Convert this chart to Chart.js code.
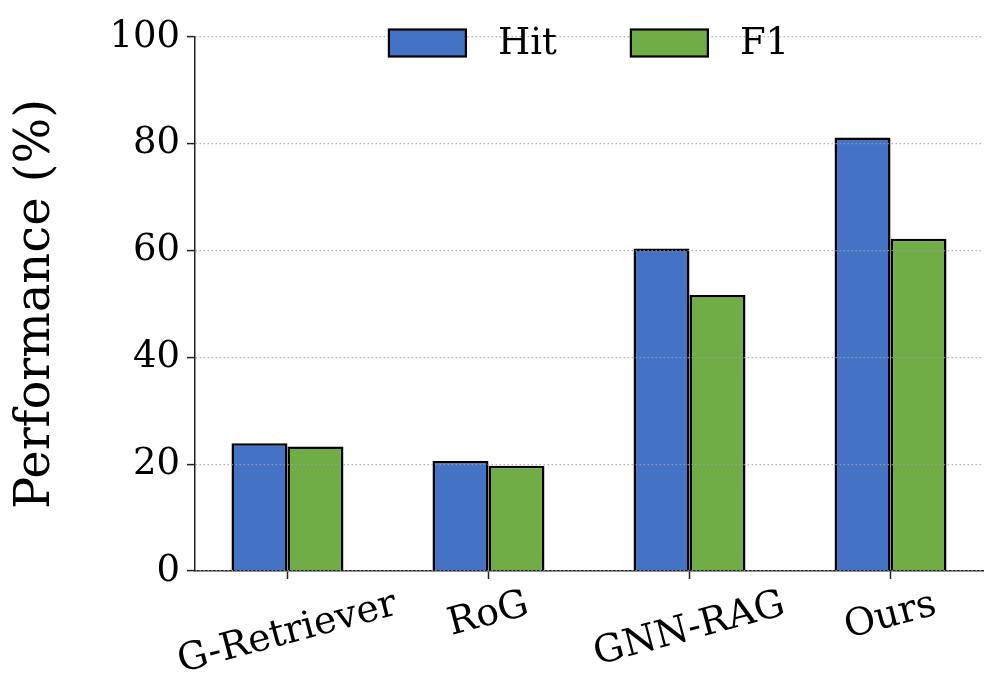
<!DOCTYPE html>
<html><head><meta charset="utf-8">
<script src="https://cdn.jsdelivr.net/npm/chart.js@4"></script>
<style>html,body{margin:0;padding:0;background:#fff}</style>
</head>
<body>
<canvas id="c" width="996" height="690"></canvas>
<script>
const categories = ['G-Retriever', 'RoG', 'GNN-RAG', 'Ours'];
const hitValues = [23.9, 20.6, 60.4, 81.2];
const f1Values = [23.3, 19.7, 51.7, 62.2];
const yTicks = [0, 20, 40, 60, 80, 100];
const seriesLabels = ['Hit', 'F1'];
const seriesColors = ['#4472C4', '#70AD47'];
const yTitle = 'Performance (%)';

const FAMILY = "'DejaVu Serif', serif";
const TICK_SIZE = 37;
const XLABEL_SIZE = 38;

const xLabelPlugin = {
  id: 'xLabels',
  afterDraw(chart) {
    const ctx = chart.ctx;
    const xs = chart.scales.x;
    const ang = 15 * Math.PI / 180;
    ctx.save();
    ctx.font = XLABEL_SIZE + 'px ' + FAMILY;
    ctx.fillStyle = '#000';
    ctx.textAlign = 'center';
    ctx.textBaseline = 'middle';
    categories.forEach((c, i) => {
      const x = xs.getPixelForValue(i);
      const w = ctx.measureText(c).width;
      const h = XLABEL_SIZE * 1.0;
      const hr = w * Math.sin(ang) + h * Math.cos(ang);
      const top = xs.top + 8 + 7;
      const cy = top + hr / 2;
      ctx.save();
      ctx.translate(x, cy);
      ctx.rotate(-ang);
      ctx.fillText(c, 0, 0);
      ctx.restore();
    });
    ctx.restore();
  }
};

const legendPlugin = {
  id: 'customLegend',
  afterDraw(chart) {
    const ctx = chart.ctx;
    const area = chart.chartArea;
    ctx.save();
    ctx.font = TICK_SIZE + 'px ' + FAMILY;
    const boxW = 77, boxH = 27, pad = 32, colSp = 74;
    const ws = chart.data.datasets.map(d => ctx.measureText(d.label).width);
    let total = 0;
    ws.forEach((w, i) => { total += boxW + pad + w + (i < ws.length - 1 ? colSp : 0); });
    let x = (area.left + area.right) / 2 - total / 2;
    const cy = 43;
    chart.data.datasets.forEach((d, i) => {
      ctx.fillStyle = d.backgroundColor;
      ctx.fillRect(x, cy - boxH / 2, boxW, boxH);
      ctx.lineWidth = 2.2;
      ctx.strokeStyle = '#000';
      ctx.strokeRect(x, cy - boxH / 2, boxW, boxH);
      ctx.fillStyle = '#000';
      ctx.textAlign = 'left';
      ctx.textBaseline = 'middle';
      ctx.fillText(d.label, x + boxW + pad, cy + 1);
      x += boxW + pad + ws[i] + colSp;
    });
    ctx.restore();
  }
};

const datasets = [hitValues, f1Values].map((vals, k) => ({
  label: seriesLabels[k],
  data: vals.map((v, i) => ({ x: i, y: v })),
  backgroundColor: seriesColors[k],
  borderColor: '#000',
  borderWidth: 2.5,
  borderSkipped: 'bottom',
  barPercentage: 1.0,
  categoryPercentage: 0.557
}));

new Chart(document.getElementById('c'), {
  type: 'bar',
  data: { datasets },
  plugins: [xLabelPlugin, legendPlugin],
  options: {
    responsive: false,
    animation: false,
    devicePixelRatio: 1,
    layout: { padding: { top: 37, right: 13, left: 0, bottom: 0 } },
    plugins: { legend: { display: false }, tooltip: { enabled: false } },
    scales: {
      x: {
        type: 'linear',
        offset: false,
        min: -0.46,
        max: 3.46,
        afterBuildTicks(scale) { scale.ticks = categories.map((c, i) => ({ value: i })); },
        afterFit(scale) { scale.height = 119; },
        ticks: { display: false },
        grid: { offset: false, drawOnChartArea: false, drawTicks: true, tickLength: 8, tickColor: '#222', tickWidth: 1.5, z: 1 },
        border: { display: true, color: '#222', width: 1.5, z: 1 }
      },
      y: {
        min: 0,
        max: 100,
        afterBuildTicks(scale) { scale.ticks = yTicks.map(v => ({ value: v })); },
        afterFit(scale) { scale.width = 195; },
        ticks: { font: { family: FAMILY, size: TICK_SIZE }, color: '#000', padding: 7 },
        title: { display: true, text: yTitle, font: { family: FAMILY, size: 48 }, color: '#000', padding: { top: 8, bottom: 0 } },
        grid: { color: 'rgba(160,160,160,0.8)', lineWidth: 1.2, tickLength: 8, tickColor: '#222', tickWidth: 1.5, tickBorderDash: [], z: 1 },
        border: { display: true, color: '#222', width: 1.5, dash: [1.5, 2.5], z: 1 }
      }
    }
  }
});
</script>
</body></html>
